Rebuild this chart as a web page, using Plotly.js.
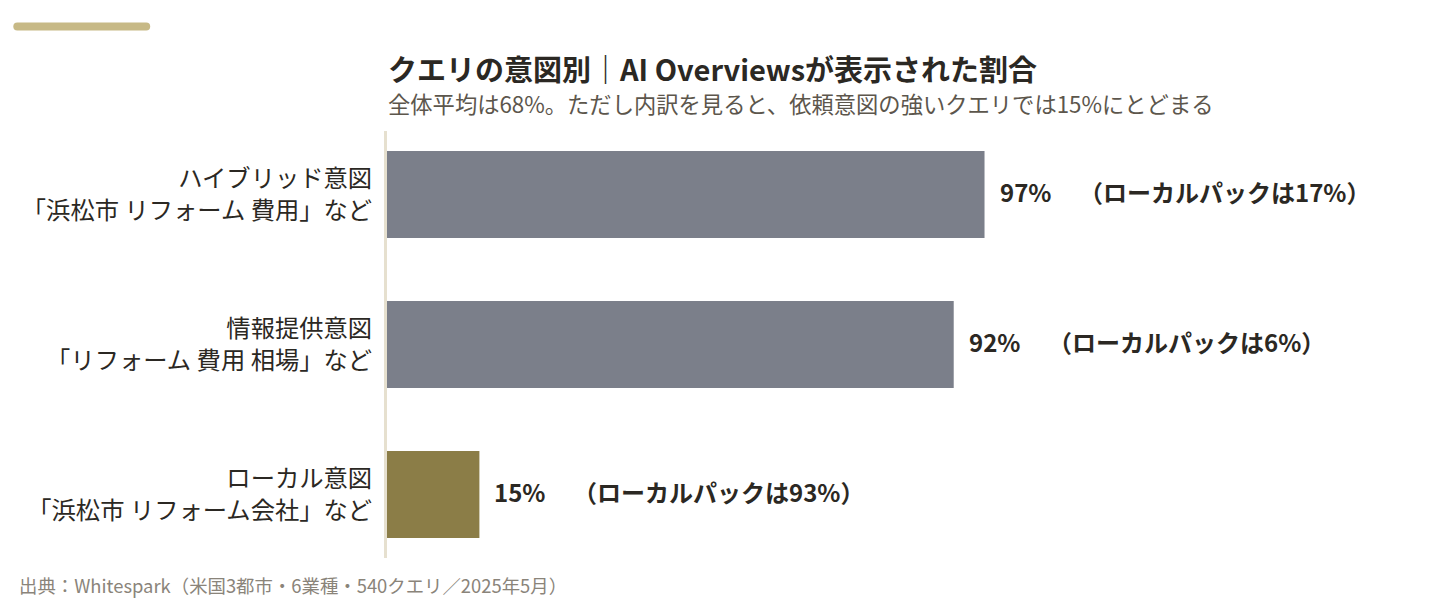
<!DOCTYPE html>
<html>
<head>
<meta charset="utf-8">
<script src="https://cdn.plot.ly/plotly-3.0.1.min.js"></script>
<style>
html,body{margin:0;padding:0;background:#fff;}
#chart{width:1456px;height:602px;}
</style>
</head>
<body>
<div id="chart"></div>
<script>
// Data
var categories = ["hybrid", "info", "local"];
var categoryLabels = [
  "ハイブリッド意図<br>「浜松市 リフォーム 費用」など",
  "情報提供意図<br>「リフォーム 費用 相場」など",
  "ローカル意図<br>「浜松市 リフォーム会社」など"
];
var aioShare = [97, 92, 15];
var localPackShare = [17, 6, 93];
var barColors = ["#7b7f8a", "#7b7f8a", "#8b7d47"];

var titleText = "クエリの意図別｜AI Overviewsが表示された割合";
var subtitleText = "全体平均は68%。ただし内訳を見ると、依頼意図の強いクエリでは15%にとどまる";
var sourceText = "出典：Whitespark（米国3都市・6業種・540クエリ／2025年5月）";

var FONT = '"Noto Sans CJK JP", "Noto Sans", sans-serif';

// Layout geometry (pixels)
var W = 1456, H = 602;
var mL = 387, mR = 452.5, mT = 131, mB = 44;
var pw = W - mL - mR, ph = H - mT - mB;
function px2x(p){ return (p - mL) / pw; }
function py2y(p){ return (H - mB - p) / ph; }

var trace = {
  type: "bar",
  orientation: "h",
  y: categories,
  x: aioShare,
  marker: {color: barColors, line: {width: 0}},
  width: 0.58,
  hoverinfo: "skip",
  showlegend: false
};

var annotations = [];
for (var i = 0; i < categories.length; i++) {
  annotations.push({
    xref: "x", yref: "y",
    x: aioShare[i], y: categories[i],
    xanchor: "left", yanchor: "middle",
    xshift: 13, yshift: 3,
    showarrow: false,
    text: "<b>" + aioShare[i] + "%</b>",
    font: {family: FONT, size: 24, color: "#2b2823"}
  });
  annotations.push({
    xref: "x", yref: "y",
    x: aioShare[i], y: categories[i],
    xanchor: "left", yanchor: "middle",
    xshift: 92, yshift: 3,
    showarrow: false,
    text: "<b>（ローカルパックは" + localPackShare[i] + "%）</b>",
    font: {family: FONT, size: 24, color: "#2b2823"}
  });
}
annotations.push({
  xref: "paper", yref: "paper",
  x: px2x(386), y: py2y(68), xanchor: "left", yanchor: "middle",
  showarrow: false,
  text: "<b>" + titleText + "</b>",
  font: {family: FONT, size: 29, color: "#2b2823"}
});
annotations.push({
  xref: "paper", yref: "paper",
  x: px2x(386), y: py2y(103), xanchor: "left", yanchor: "middle",
  showarrow: false,
  text: subtitleText,
  font: {family: FONT, size: 22.3, color: "#5c564c"}
});
annotations.push({
  xref: "paper", yref: "paper",
  x: px2x(17), y: py2y(585), xanchor: "left", yanchor: "middle",
  showarrow: false,
  text: sourceText,
  font: {family: FONT, size: 18.4, color: "#8a847a"}
});

// decorative rounded bar top-left
var x0 = px2x(13), x1 = px2x(150);
var yt = py2y(22.5), yb = py2y(30.5), ym = (yt + yb) / 2;
var rx = 4 / pw;
var path = "M " + (x0 + rx) + "," + yt + " L " + (x1 - rx) + "," + yt +
  " Q " + x1 + "," + yt + " " + x1 + "," + ym +
  " Q " + x1 + "," + yb + " " + (x1 - rx) + "," + yb +
  " L " + (x0 + rx) + "," + yb +
  " Q " + x0 + "," + yb + " " + x0 + "," + ym +
  " Q " + x0 + "," + yt + " " + (x0 + rx) + "," + yt + " Z";

var layout = {
  width: W, height: H,
  margin: {l: mL, r: mR, t: mT, b: mB, pad: 0},
  paper_bgcolor: "#ffffff",
  plot_bgcolor: "#ffffff",
  font: {family: FONT, color: "#2b2823"},
  xaxis: {
    range: [0, 100],
    visible: false,
    fixedrange: true
  },
  yaxis: {
    type: "category",
    categoryorder: "array",
    categoryarray: categories,
    tickvals: categories,
    ticktext: categoryLabels,
    range: [2.423, -0.423],
    showline: true,
    linecolor: "#e6e0cf",
    linewidth: 3,
    showgrid: false,
    zeroline: false,
    ticks: "",
    ticklabelstandoff: 7,
    tickfont: {family: FONT, size: 24.3, color: "#2b2823"},
    fixedrange: true
  },
  shapes: [{
    type: "path", xref: "paper", yref: "paper",
    path: path,
    fillcolor: "#c7b986",
    line: {width: 0}
  }],
  annotations: annotations,
  bargap: 0.42
};

Plotly.newPlot("chart", [trace], layout, {displayModeBar: false, staticPlot: true});
</script>
</body>
</html>
